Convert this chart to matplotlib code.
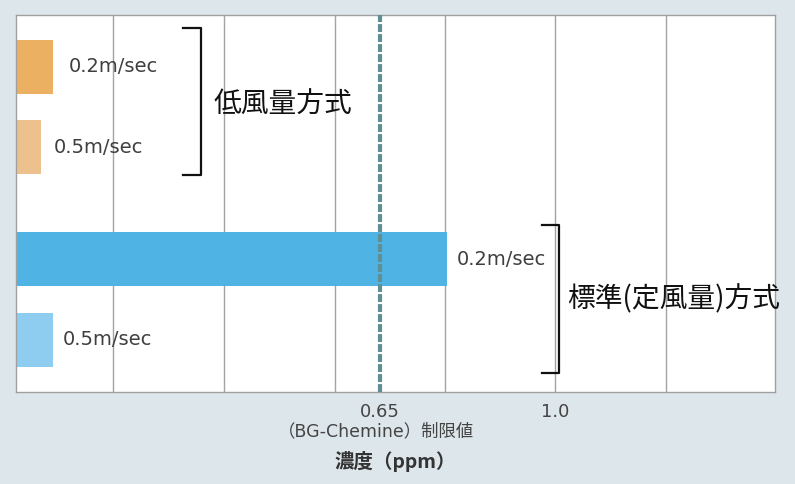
import matplotlib.pyplot as plt

plt.rcParams["font.family"] = ["DejaVu Sans", "Noto Sans CJK JP"]

# bars, top to bottom
speeds = ["0.2m/sec", "0.5m/sec", "0.2m/sec", "0.5m/sec"]
rows = [0, 1, 2.39, 3.39]
# bar lengths in ppm, measured from the left edge of the axis
lengths = [0.074, 0.050, 0.862, 0.074]
colors = ["#ebb061", "#ecc18d", "#4fb4e4", "#8ecdf0"]

groups = ["低風量方式", "標準(定風量)方式"]

x_min, x_max = -0.078, 1.44
grid_ppm = [0.116, 0.338, 0.56, 0.78, 1.0, 1.222]
limit_ppm = 0.65
tick_ppm = [0.65, 1.0]
tick_labels = ["0.65", "1.0"]

fig = plt.figure(figsize=(7.95, 4.84), dpi=100, facecolor="#dde6ea")
ax = fig.add_axes([16 / 795, 1 - 392 / 484, 759 / 795, 377 / 484])
ax.set_facecolor("white")

for g in grid_ppm:
    ax.axvline(g, color="#a3a3a3", lw=1, zorder=0)

ax.barh(rows, lengths, left=x_min, height=0.67, color=colors, zorder=2)

# limit line
ax.axvline(limit_ppm, color="#5e8f95", lw=3, ls=(0, (1.9, 0.5)), zorder=3)

offsets = [11, 9, 7, 7]
for speed, row, length, off in zip(speeds, rows, lengths, offsets):
    ax.annotate(speed, xy=(x_min + length, row), xytext=(off, 0),
                textcoords="offset points", ha="left", va="center",
                fontsize=14, color="#3f3f3f", zorder=4)

# group brackets
ax.plot([0.256, 0.292, 0.292, 0.256], [-0.484, -0.484, 1.342, 1.342],
        color="#111111", lw=1.6, clip_on=False, zorder=4)
ax.plot([0.974, 1.008, 1.008, 0.974], [1.963, 1.963, 3.80, 3.80],
        color="#111111", lw=1.6, clip_on=False, zorder=4)
ax.text(0.316, 0.472, groups[0], fontsize=20, family="Noto Sans CJK JP",
        va="center", ha="left", color="#111111")
ax.text(1.024, 2.894, groups[1], fontsize=20, family="Noto Sans CJK JP",
        va="center", ha="left", color="#111111", clip_on=False)

ax.set_xlim(x_min, x_max)
ax.set_ylim(4.04, -0.646)
ax.set_xticks(tick_ppm, tick_labels)
ax.set_yticks([])
ax.tick_params(axis="x", length=0, pad=8, labelsize=13, labelcolor="#444444")
for sp in ax.spines.values():
    sp.set_color("#a0a0a0")
    sp.set_linewidth(1)

ax.annotate("（BG-Chemine）制限値", xy=(limit_ppm, 0),
            xycoords=("data", "axes fraction"), xytext=(-3, -28),
            textcoords="offset points", ha="center", va="center",
            fontsize=12.5, color="#444444")

fig.text(395.5 / 795, 1 - 462 / 484, "濃度（ppm）", ha="center", va="center",
         fontsize=14, fontweight="bold", color="#333333",
         family=["Noto Sans CJK JP"])

fig.savefig("out.png", dpi=100, facecolor=fig.get_facecolor())
